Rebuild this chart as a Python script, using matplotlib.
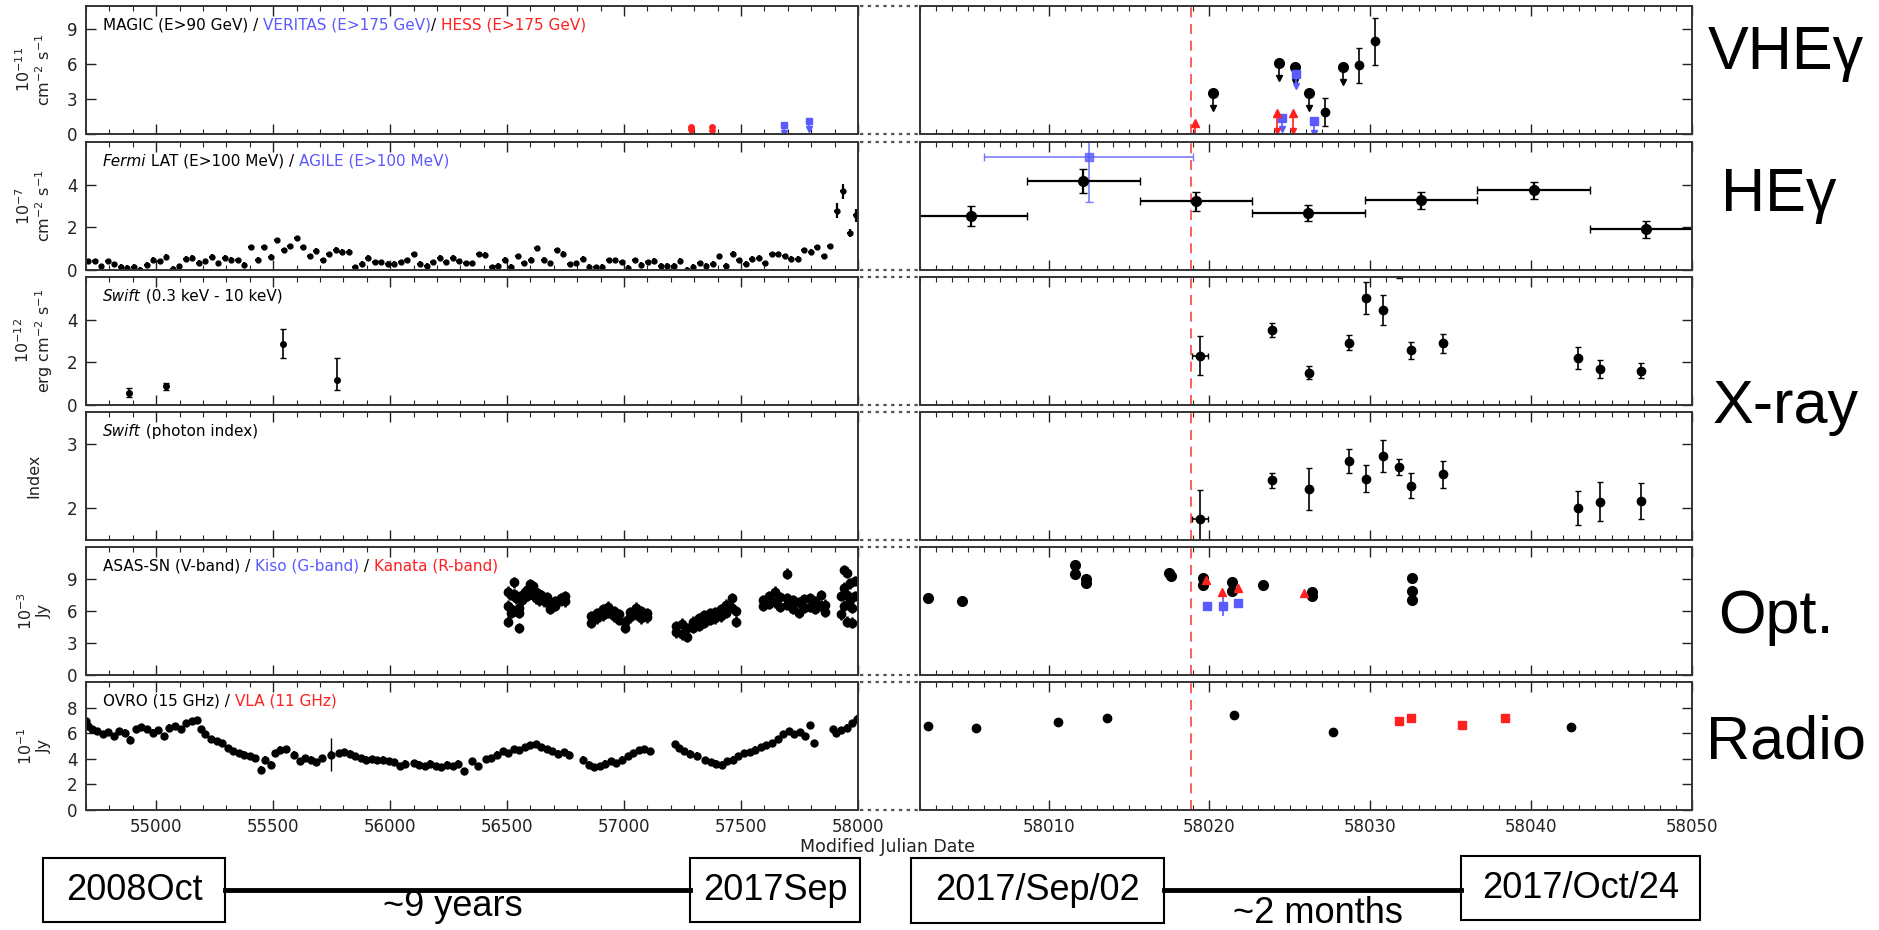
import numpy as np
import matplotlib.pyplot as plt
from matplotlib.lines import Line2D
from matplotlib.patches import Rectangle

W, H = 1879, 930
fig = plt.figure(figsize=(W / 100, H / 100), dpi=100)

BLUE = '#5a5aff'
RED = '#ff2020'
ICECUBE = 58018.87
BIG = ['Liberation Sans Narrow', 'Liberation Sans', 'DejaVu Sans']

# ---------------- VHE gamma ----------------
hess_old_t = [57288, 57376]
hess_old_f = [0.63, 0.60]
veritas_old_t = [57684, 57791]
veritas_old_f = [0.77, 1.14]

magic_ul_t = [58020.2, 58024.3, 58025.3, 58026.2, 58028.3]
magic_ul_f = [3.54, 6.10, 5.75, 3.54, 5.75]
magic_t = [58027.2, 58029.3, 58030.3]
magic_f = [1.93, 5.90, 7.96]
magic_e = [1.2, 1.5, 2.0]
veritas_ul_t = [58024.5, 58025.4, 58026.5]
veritas_ul_f = [1.40, 5.15, 1.10]
hess_ul_t = [58019.1, 58024.2, 58025.2]
hess_ul_f = [0.93, 1.80, 1.80]

# ---------------- HE gamma (Fermi LAT monthly bins) ----------------
lat_month_f = [0.40, 0.40, 0.18, 0.40, 0.26, 0.16, 0.10, 0.16, 0.02, 0.24,
               0.48, 0.40, 0.61, 0.05, 0.18, 0.53, 0.58, 0.35, 0.40, 0.61,
               0.32, 0.58, 0.48, 0.45, 0.24, 1.06, 0.48, 1.06, 0.61, 1.40,
               0.93, 1.12, 1.49, 1.06, 0.64, 0.90, 0.45, 0.74, 0.96, 0.85,
               0.85, 0.13, 0.29, 0.58, 0.37, 0.37, 0.29, 0.29, 0.37, 0.45,
               0.74, 0.29, 0.21, 0.37, 0.58, 0.37, 0.58, 0.40, 0.32, 0.32,
               0.74, 0.72, 0.13, 0.21, 0.48, 0.16, 0.64, 0.32, 0.48, 1.01,
               0.48, 0.32, 0.93, 0.77, 0.26, 0.32, 0.53, 0.16, 0.13, 0.16,
               0.45, 0.45, 0.37, 0.10, 0.45, 0.24, 0.37, 0.42, 0.21, 0.21,
               0.21, 0.42, 0.02, 0.16, 0.32, 0.21, 0.29, 0.64, 0.21, 0.77,
               0.45, 0.29, 0.53, 0.58, 0.32, 0.74, 0.74, 0.64, 0.53, 0.53,
               0.93, 0.85, 1.06, 0.64, 1.12, 2.77, 3.68, 1.73, 2.56]
lat_month_e = [0.12] * 115 + [0.35, 0.35, 0.2, 0.3]
lat_month_t = np.linspace(54710, 57992, len(lat_month_f))

lat_week_t = [58005.15, 58012.15, 58019.15, 58026.15, 58033.15, 58040.15, 58047.15]
lat_week_f = [2.54, 4.19, 3.22, 2.67, 3.27, 3.74, 1.92]
lat_week_e = [0.47, 0.56, 0.45, 0.37, 0.39, 0.40, 0.40]
agile_t = [58012.5]
agile_f = [5.30]
agile_e = [2.1]

# ---------------- X-ray (Swift XRT) ----------------
xrt_old_t = [54883, 55040, 55543, 55773]
xrt_old_f = [0.58, 0.87, 2.84, 1.18]
xrt_old_lo = [0.22, 0.15, 0.65, 0.50]
xrt_old_hi = [0.24, 0.18, 0.70, 1.03]

xrt_t = [58019.4, 58023.9, 58026.2, 58028.7, 58029.7, 58030.8, 58031.8,
         58032.5, 58034.5, 58042.9, 58044.3, 58046.8]
xrt_f = [2.32, 3.52, 1.52, 2.92, 5.00, 4.46, 6.60, 2.57, 2.89, 2.20, 1.68, 1.60]
xrt_e = [0.9, 0.33, 0.30, 0.36, 0.75, 0.71, 0.65, 0.40, 0.44, 0.50, 0.43, 0.35]
xrt_idx = [1.83, 2.43, 2.30, 2.73, 2.46, 2.82, 2.64, 2.35, 2.53, 2.00, 2.10, 2.11]
xrt_idx_e = [0.45, 0.12, 0.33, 0.19, 0.21, 0.25, 0.13, 0.20, 0.21, 0.27, 0.31, 0.28]

# ---------------- Optical ----------------
asassn_old_t = [56504, 56504, 56504, 56516, 56516, 56516, 56528, 56528, 56540, 56540,
                56552, 56552, 56552, 56564, 56564, 56575, 56575, 56587, 56587, 56599,
                56599, 56611, 56611, 56623, 56623, 56635, 56635, 56647, 56647, 56659,
                56659, 56670, 56670, 56682, 56682, 56706, 56706, 56730, 56730, 56749,
                56749,
                56860, 56860, 56884, 56884, 56908, 56908, 56932, 56932, 56955, 56955,
                56979, 56979, 57003, 57003, 57027, 57027, 57050, 57050, 57074, 57074,
                57098, 57098,
                57224, 57224, 57247, 57247, 57271, 57271, 57295, 57295, 57319, 57319,
                57342, 57342, 57366, 57366, 57390, 57390, 57413, 57413, 57437, 57437,
                57461, 57461, 57480, 57480,
                57596, 57596, 57620, 57620, 57644, 57644, 57668, 57668, 57698, 57698,
                57698, 57722, 57722, 57746, 57746, 57770, 57770, 57793, 57793, 57817,
                57817, 57841, 57841, 57857, 57857,
                57929, 57929, 57941, 57941, 57941, 57952, 57952, 57952, 57964, 57964,
                57976, 57976, 57988, 57988]
asassn_old_f = [7.8, 6.5, 5.0, 7.5, 6.2, 5.8, 8.7, 7.6, 7.2, 6.0,
                4.4, 5.8, 6.3, 7.5, 7.0, 7.8, 7.3, 8.0, 7.4, 8.5,
                7.6, 8.3, 7.5, 7.8, 7.2, 7.6, 7.0, 7.4, 7.5, 7.2,
                6.9, 6.8, 7.3, 6.2, 6.7, 6.5, 6.9, 7.0, 7.2, 7.4,
                6.9,
                5.5, 4.9, 5.8, 5.3, 6.2, 5.6, 6.4, 5.8, 6.0, 5.5,
                5.7, 5.2, 5.0, 4.4, 5.9, 5.4, 6.3, 5.7, 6.0, 5.3,
                5.8, 5.4,
                4.6, 4.0, 4.8, 3.8, 4.4, 3.6, 5.0, 4.4, 5.3, 4.6,
                5.6, 4.9, 5.8, 5.2, 5.9, 5.3, 6.2, 5.5, 6.6, 5.8,
                7.2, 6.3, 6.0, 5.0,
                7.0, 6.5, 7.4, 6.7, 7.8, 6.8, 7.3, 6.4, 9.5, 7.2,
                6.6, 7.0, 6.2, 6.8, 5.8, 7.1, 6.3, 7.2, 6.4, 6.9,
                6.2, 7.5, 6.5, 6.6, 5.9,
                7.4, 5.7, 9.8, 8.2, 6.5, 9.6, 7.5, 5.0, 8.6, 7.0,
                6.3, 4.9, 8.8, 7.4]

asassn_t = [58002.5, 58004.6, 58011.65, 58011.65, 58012.35, 58012.35, 58017.5, 58017.6,
            58019.6, 58019.6, 58021.4, 58021.4, 58023.3, 58026.4, 58026.4,
            58032.6, 58032.6, 58032.6]
asassn_f = [7.2, 6.94, 10.3, 9.5, 8.97, 8.66, 9.6, 9.3,
            9.06, 8.44, 8.75, 7.9, 8.44, 7.8, 7.4,
            9.06, 7.9, 7.03]
kanata_t = [58019.8, 58020.8, 58021.8, 58025.85]
kanata_f = [8.9, 7.8, 8.2, 7.66]
kiso_t = [58019.86, 58020.83, 58021.77]
kiso_f = [6.5, 6.5, 6.72]
kiso_e = [0.2, 1.0, 0.2]

# ---------------- Radio ----------------
ovro_old_t = [54700, 54707, 54724, 54747, 54771, 54795, 54819, 54842, 54866, 54890,
              54914, 54937, 54961, 54985, 55009, 55032, 55056, 55080, 55104, 55127,
              55151, 55175, 55191, 55210, 55234, 55258, 55282, 55305, 55329, 55353,
              55377, 55400, 55424, 55448, 55467, 55491, 55507, 55531, 55555, 55590,
              55614, 55638, 55661, 55685, 55709, 55749, 55780, 55804, 55828, 55851,
              55875, 55899, 55923, 55946, 55970, 55994, 56018, 56041, 56065, 56101,
              56124, 56148, 56172, 56196, 56219, 56243, 56267, 56291, 56314, 56350,
              56374, 56409, 56433, 56457, 56481, 56504, 56528, 56552, 56575, 56599,
              56623, 56647, 56670, 56694, 56718, 56742, 56765, 56825, 56848, 56872,
              56896, 56920, 56943, 56967, 56991, 57015, 57038, 57062, 57086, 57110,
              57216, 57233, 57257, 57281, 57311, 57347, 57371, 57394, 57418, 57442,
              57466, 57489, 57513, 57537, 57561, 57584, 57608, 57632, 57656, 57679,
              57703, 57727, 57751, 57774, 57793, 57810, 57893, 57905, 57929, 57953,
              57976, 57996]
ovro_old_f = [6.95, 6.56, 6.35, 6.17, 5.90, 6.10, 5.77, 6.17, 6.04, 5.50,
              6.30, 6.50, 6.35, 6.04, 6.25, 5.77, 6.43, 6.56, 6.35, 6.82,
              6.95, 7.03, 6.30, 5.90, 5.56, 5.38, 5.25, 4.86, 4.60, 4.46,
              4.33, 4.20, 4.07, 3.15, 3.94, 3.54, 4.46, 4.72, 4.78, 4.33,
              3.80, 4.07, 3.94, 3.73, 4.07, 4.33, 4.46, 4.51, 4.40, 4.20,
              4.07, 3.94, 3.99, 3.88, 3.94, 3.80, 3.73, 3.41, 3.62, 3.67,
              3.54, 3.41, 3.62, 3.46, 3.36, 3.54, 3.46, 3.62, 3.02, 3.80,
              3.46, 3.99, 4.07, 4.33, 4.60, 4.46, 4.78, 4.67, 4.93, 5.04,
              5.12, 4.93, 4.78, 4.60, 4.40, 4.51, 4.33, 3.94, 3.54, 3.36,
              3.46, 3.62, 3.80, 3.67, 3.94, 4.20, 4.46, 4.67, 4.78, 4.60,
              5.12, 4.86, 4.60, 4.40, 4.25, 3.88, 3.73, 3.62, 3.54, 3.80,
              3.94, 4.20, 4.46, 4.51, 4.72, 4.93, 5.04, 5.25, 5.51, 5.90,
              6.17, 5.90, 6.10, 5.77, 6.61, 5.25, 6.30, 6.04, 6.25, 6.43,
              6.82, 7.14]
ovro_t = [58002.5, 58005.5, 58010.6, 58013.6, 58021.5, 58027.7, 58042.5]
ovro_f = [6.55, 6.42, 6.84, 7.20, 7.39, 6.06, 6.47]
vla_t = [58031.8, 58032.5, 58035.7, 58038.4]
vla_f = [6.92, 7.20, 6.66, 7.20]

# ---------------- layout ----------------
tops = [6, 142, 277, 412, 547, 682]
ph = 128
xl0, xl1 = 86, 858
xr0, xr1 = 920, 1692


def fx(px):
    return px / W


def fy(py):
    return 1 - py / H


axL, axR = [], []
for t in tops:
    b = fy(t + ph)
    axL.append(fig.add_axes([fx(xl0), b, fx(xl1 - xl0), ph / H]))
    axR.append(fig.add_axes([fx(xr0), b, fx(xr1 - xr0), ph / H]))

ylims = [(0, 11), (0, 6), (0, 6), (1.5, 3.5), (0, 12), (0, 10)]
yticks = [[0, 3, 6, 9], [0, 2, 4], [0, 2, 4], [2, 3], [0, 3, 6, 9], [0, 2, 4, 6, 8]]

for i in range(6):
    a, r = axL[i], axR[i]
    for ax in (a, r):
        ax.set_ylim(*ylims[i])
        ax.set_yticks(yticks[i])
        for s in ax.spines.values():
            s.set_color('#333333')
            s.set_linewidth(1.4)
        ax.tick_params(which='both', direction='in', top=True, bottom=True,
                       labelsize=12, colors='#222222', pad=6)
        ax.tick_params(which='major', length=7, width=1)
        ax.tick_params(which='minor', length=3.5, width=0.8)
    a.set_xlim(54700, 58000)
    a.set_xticks(np.arange(55000, 58001, 500))
    a.set_xticks(np.arange(54700, 58001, 100), minor=True)
    a.tick_params(axis='y', left=True, right=False, labelleft=True)
    r.set_xlim(58002, 58050)
    r.set_xticks(np.arange(58010, 58051, 10))
    r.set_xticks(np.arange(58002, 58051, 1), minor=True)
    r.tick_params(axis='y', left=False, right=True, labelleft=False)
    r.axvline(ICECUBE, color=RED, ls='--', lw=1.2, dashes=(6, 4), alpha=0.85)
    if i < 5:
        a.tick_params(labelbottom=False)
        r.tick_params(labelbottom=False)


def upper_limits(ax, t, f, length, color, marker, ms):
    for ti, fi in zip(t, f):
        ax.plot([ti, ti], [fi, fi - length], color=color, lw=1.2)
        ax.plot(ti, fi - length, marker='v', color=color, ms=4.5, mec=color)
        ax.plot(ti, fi, marker=marker, color=color, ms=ms, mec=color)


def label_row(ax, parts, y=0.85, size=11):
    r = fig.canvas.get_renderer()
    x = 0.022
    for s, c, st in parts:
        txt = ax.text(x, y, s, color=c, style=st, transform=ax.transAxes,
                      fontsize=size, va='center', ha='left')
        bb = txt.get_window_extent(renderer=r)
        x = ax.transAxes.inverted().transform((bb.x1, bb.y0))[0]


eb = dict(fmt='o', color='black', ms=6, elinewidth=1.2, capsize=2.5, capthick=1)

# VHE
upper_limits(axL[0], hess_old_t, hess_old_f, 0.5, RED, 'o', 4)
upper_limits(axL[0], veritas_old_t, veritas_old_f, 0.7, BLUE, 's', 4)
upper_limits(axR[0], magic_ul_t, magic_ul_f, 1.3, 'black', 'o', 7)
axR[0].errorbar(magic_t, magic_f, yerr=magic_e, **eb)
upper_limits(axR[0], veritas_ul_t, veritas_ul_f, 1.0, BLUE, 's', 6)
upper_limits(axR[0], hess_ul_t, hess_ul_f, 1.5, RED, '^', 6)
label_row(axL[0], [('MAGIC (E>90 GeV) / ', 'black', 'normal'),
                   ('VERITAS (E>175 GeV)', BLUE, 'normal'),
                   ('/ ', 'black', 'normal'),
                   ('HESS (E>175 GeV)', RED, 'normal')])

# HE
axL[1].errorbar(lat_month_t, lat_month_f, yerr=lat_month_e, xerr=12, fmt='o',
                color='black', ms=3.5, elinewidth=1.6, capsize=0)
axR[1].errorbar(agile_t, agile_f, yerr=agile_e, xerr=6.5, fmt='s', color=BLUE,
                ms=6, elinewidth=1.2, capsize=3, alpha=0.8)
axR[1].errorbar(lat_week_t, lat_week_f, yerr=lat_week_e, xerr=3.5, fmt='o',
                color='black', ms=7, elinewidth=1.6, capsize=3, capthick=1)
label_row(axL[1], [('Fermi', 'black', 'italic'), (' LAT (E>100 MeV) / ', 'black', 'normal'),
                   ('AGILE (E>100 MeV)', BLUE, 'normal')])

# X-ray flux
axL[2].errorbar(xrt_old_t, xrt_old_f, yerr=[xrt_old_lo, xrt_old_hi], fmt='o',
                color='black', ms=4, elinewidth=1.2, capsize=2.5)
axR[2].errorbar(xrt_t, xrt_f, yerr=xrt_e, **eb)
axR[2].errorbar(xrt_t[:1], xrt_f[:1], xerr=0.5, fmt='none', ecolor='black',
                elinewidth=1.2, capsize=2.5)
label_row(axL[2], [('Swift', 'black', 'italic'), (' (0.3 keV - 10 keV)', 'black', 'normal')])

# X-ray photon index
axR[3].errorbar(xrt_t, xrt_idx, yerr=xrt_idx_e, **eb)
axR[3].errorbar(xrt_t[:1], xrt_idx[:1], xerr=0.5, fmt='none', ecolor='black',
                elinewidth=1.2, capsize=2.5)
label_row(axL[3], [('Swift', 'black', 'italic'), (' (photon index)', 'black', 'normal')])

# Optical
axL[4].errorbar(asassn_old_t, asassn_old_f, yerr=0.5, fmt='o', color='black',
                ms=6, elinewidth=1.8, capsize=0)
axR[4].plot(asassn_t, asassn_f, 'o', color='black', ms=7)
axR[4].errorbar(kiso_t, kiso_f, yerr=kiso_e, fmt='s', color=BLUE, ms=6,
                elinewidth=1.2, capsize=0)
axR[4].plot(kanata_t, kanata_f, '^', color=RED, ms=6)
label_row(axL[4], [('ASAS-SN (V-band) / ', 'black', 'normal'),
                   ('Kiso (G-band)', BLUE, 'normal'),
                   (' / ', 'black', 'normal'),
                   ('Kanata (R-band)', RED, 'normal')])

# Radio
axL[5].errorbar(ovro_old_t, ovro_old_f, yerr=0.25, fmt='o', color='black', ms=5,
                elinewidth=1.6, capsize=0)
axL[5].errorbar([55749], [4.33], yerr=1.3, fmt='none', ecolor='black', elinewidth=1)
axR[5].plot(ovro_t, ovro_f, 'o', color='black', ms=6)
axR[5].plot(vla_t, vla_f, 's', color=RED, ms=6)
label_row(axL[5], [('OVRO (15 GHz) / ', 'black', 'normal'), ('VLA (11 GHz)', RED, 'normal')])

# y-axis labels
ylabels = ['$10^{-11}$\ncm$^{-2}$ s$^{-1}$', '$10^{-7}$\ncm$^{-2}$ s$^{-1}$',
           '$10^{-12}$\nerg cm$^{-2}$ s$^{-1}$', 'Index', '$10^{-3}$\nJy', '$10^{-1}$\nJy']
for t, lab in zip(tops, ylabels):
    fig.text(fx(34), fy(t + ph / 2), lab, rotation=90, ha='center', va='center',
             fontsize=11.5, color='#222222', linespacing=1.1)

fig.text(fx(887), fy(847), 'Modified Julian Date', ha='center', va='center',
         fontsize=12.5, color='#222222')

# broken-axis markers between the two columns
for t in tops:
    for yy in (t, t + ph):
        fig.add_artist(Line2D([fx(xl1 + 2), fx(xr0 - 2)], [fy(yy), fy(yy)],
                              ls=(0, (1.5, 2)), color='#555555', lw=1.6))

# band names on the right
bands = [('VHE\u03b3', 1786, 54), ('HE\u03b3', 1779, 195), ('X-ray', 1786, 407),
         ('Opt.', 1776, 617), ('Radio', 1786, 743)]
for s, x, y in bands:
    fig.text(fx(x), fy(y), s, ha='center', va='center', fontsize=44, family=BIG)

# time-span boxes along the bottom
boxes = [('2008Oct', 43, 225, 858, 922), ('2017Sep', 690, 860, 858, 922),
         ('2017/Sep/02', 911, 1164, 858, 923), ('2017/Oct/24', 1461, 1700, 856, 920)]
for s, x0, x1, y0, y1 in boxes:
    fig.add_artist(Rectangle((fx(x0), fy(y1)), fx(x1 - x0), (y1 - y0) / H,
                             transform=fig.transFigure, fill=False, ec='black', lw=1.5))
    fig.text(fx((x0 + x1) / 2), fy((y0 + y1) / 2), s, ha='center', va='center',
             fontsize=26, family=BIG)

for x0, x1 in [(225, 690), (1164, 1461)]:
    fig.add_artist(Line2D([fx(x0), fx(x1)], [fy(890), fy(890)], color='black', lw=3.5))
fig.text(fx(453), fy(906), '~9 years', ha='center', va='center', fontsize=26, family=BIG)
fig.text(fx(1318), fy(913), '~2 months', ha='center', va='center', fontsize=26, family=BIG)

fig.savefig('out.png', dpi=100)
